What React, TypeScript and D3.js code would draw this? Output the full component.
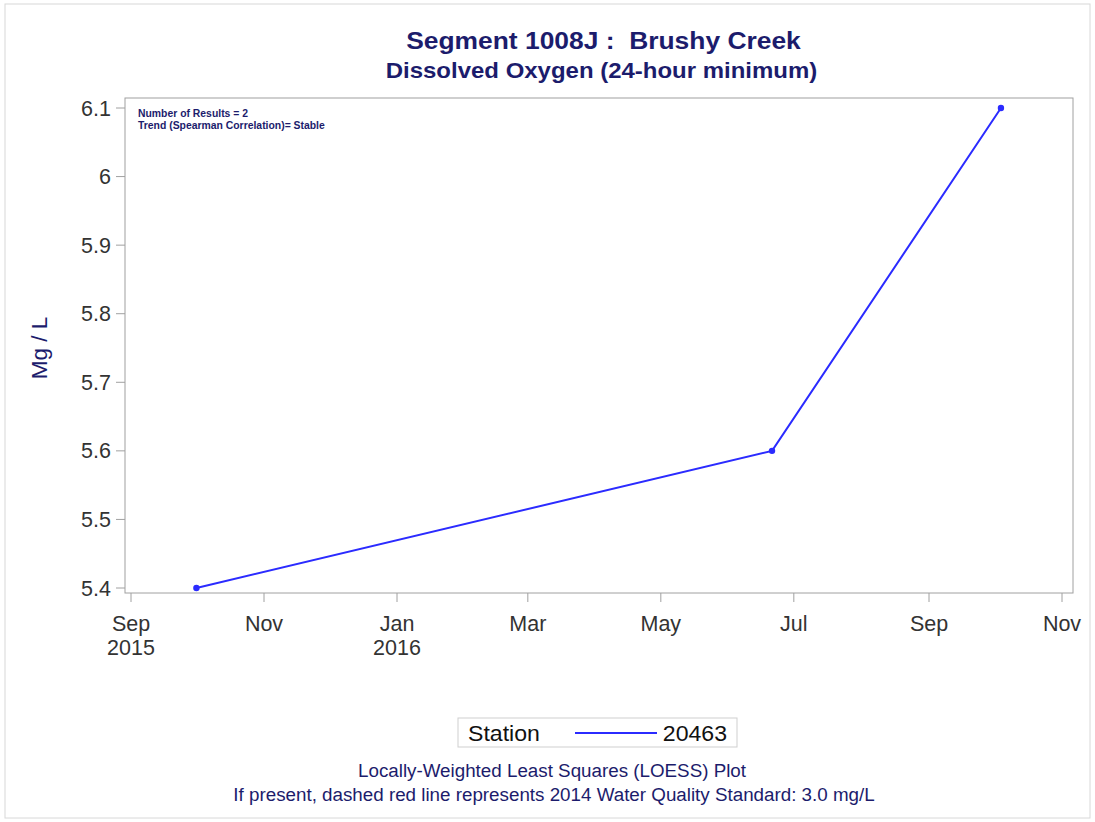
import React from "react";
import * as d3 from "d3";

const sampleDates = ["2015-10-01", "2016-06-21", "2016-10-04"];
const sampleValues = [5.4, 5.6, 6.1];
const yTicks = [5.4, 5.5, 5.6, 5.7, 5.8, 5.9, 6.0, 6.1];
const xTickDates = ["2015-09-01", "2015-11-01", "2016-01-01", "2016-03-01", "2016-05-01", "2016-07-01", "2016-09-01", "2016-11-01"];
const stationName = "20463";
const notes = ["Number of Results = 2", "Trend (Spearman Correlation)= Stable"];

const W = 1095, H = 822;
const frame = { left: 125, right: 1073, top: 98, bottom: 593 };
const NAVY = "#1c1c6c";
const BLUE = "#2b2bff";
const FONT = "'Liberation Sans', Arial, sans-serif";

const parse = d3.timeParse("%Y-%m-%d");
const fmtMon = d3.timeFormat("%b");
const fmtYear = d3.timeFormat("%Y");

function T(props: { x: number; y: number; size: number; sx?: number; anchor?: string; weight?: string; fill?: string; children: React.ReactNode }) {
  const { x, y, size, sx = 1, anchor = "start", weight = "normal", fill = "#111", children } = props;
  return (
    <text transform={`translate(${x},${y}) scale(${sx},1)`} textAnchor={anchor} fontSize={size} fontWeight={weight} fill={fill} style={{ whiteSpace: "pre" }}>
      {children}
    </text>
  );
}

export default function App() {
  const x = d3.scaleTime()
    .domain([parse("2015-09-01")!, parse("2016-11-01")!])
    .range([131, 1062]);
  const y = d3.scaleLinear().domain([5.4, 6.1]).range([588, 108]);
  const pts = sampleDates.map((d, i) => ({ x: x(parse(d)!), y: y(sampleValues[i]) }));
  const line = d3.line<{ x: number; y: number }>().x(d => d.x).y(d => d.y);

  return (
    <svg width={W} height={H} style={{ position: "absolute", left: 0, top: 0, background: "#fff" }} fontFamily={FONT}>
      <rect x={5} y={4} width={1085} height={814} fill="#fff" stroke="#d8d8d8" strokeWidth={1} />
      <T x={603.5} y={49} size={24} sx={1.1} anchor="middle" weight="bold" fill={NAVY}>Segment 1008J :  Brushy Creek</T>
      <T x={601.5} y={78} size={22} sx={1.09} anchor="middle" weight="bold" fill={NAVY}>Dissolved Oxygen (24-hour minimum)</T>

      <rect x={frame.left} y={frame.top} width={frame.right - frame.left} height={frame.bottom - frame.top} fill="none" stroke="#a0a0a0" strokeWidth={1} />

      {yTicks.map(t => (
        <g key={t}>
          <line x1={116} x2={frame.left} y1={y(t)} y2={y(t)} stroke="#a0a0a0" />
          <T x={111} y={y(t) + 7.5} size={21.5} anchor="end" fill="#333">{d3.format("~g")(t)}</T>
        </g>
      ))}

      {xTickDates.map((s, i) => {
        const d = parse(s)!;
        const px = x(d);
        const showYear = i === 0 || d.getMonth() === 0;
        return (
          <g key={s}>
            <line x1={px} x2={px} y1={frame.bottom} y2={frame.bottom + 9} stroke="#a0a0a0" />
            <T x={px} y={631} size={21.5} anchor="middle" fill="#333">{fmtMon(d)}</T>
            {showYear && <T x={px} y={655} size={21.5} anchor="middle" fill="#333">{fmtYear(d)}</T>}
          </g>
        );
      })}

      <text transform={`translate(47,348) rotate(-90)`} textAnchor="middle" fontSize={22.5} fill={NAVY}>Mg / L</text>

      {notes.map((n, i) => (
        <T key={n} x={138} y={117 + i * 12} size={10.4} weight="bold" fill={NAVY}>{n}</T>
      ))}

      <path d={line(pts)!} fill="none" stroke={BLUE} strokeWidth={2} />
      {pts.map((p, i) => <circle key={i} cx={p.x} cy={p.y} r={3.2} fill={BLUE} />)}

      <rect x={458} y={718} width={279} height={29} fill="#fff" stroke="#cfcfcf" />
      <T x={468} y={741} size={22} sx={1.05}>Station</T>
      <line x1={575} x2={657} y1={733} y2={733} stroke={BLUE} strokeWidth={2} />
      <T x={727} y={741} size={22} sx={1.05} anchor="end">{stationName}</T>

      <T x={552} y={777} size={18.8} anchor="middle" fill={NAVY}>Locally-Weighted Least Squares (LOESS) Plot</T>
      <T x={554} y={801} size={18.8} anchor="middle" fill={NAVY}>If present, dashed red line represents 2014 Water Quality Standard: 3.0 mg/L</T>
    </svg>
  );
}
